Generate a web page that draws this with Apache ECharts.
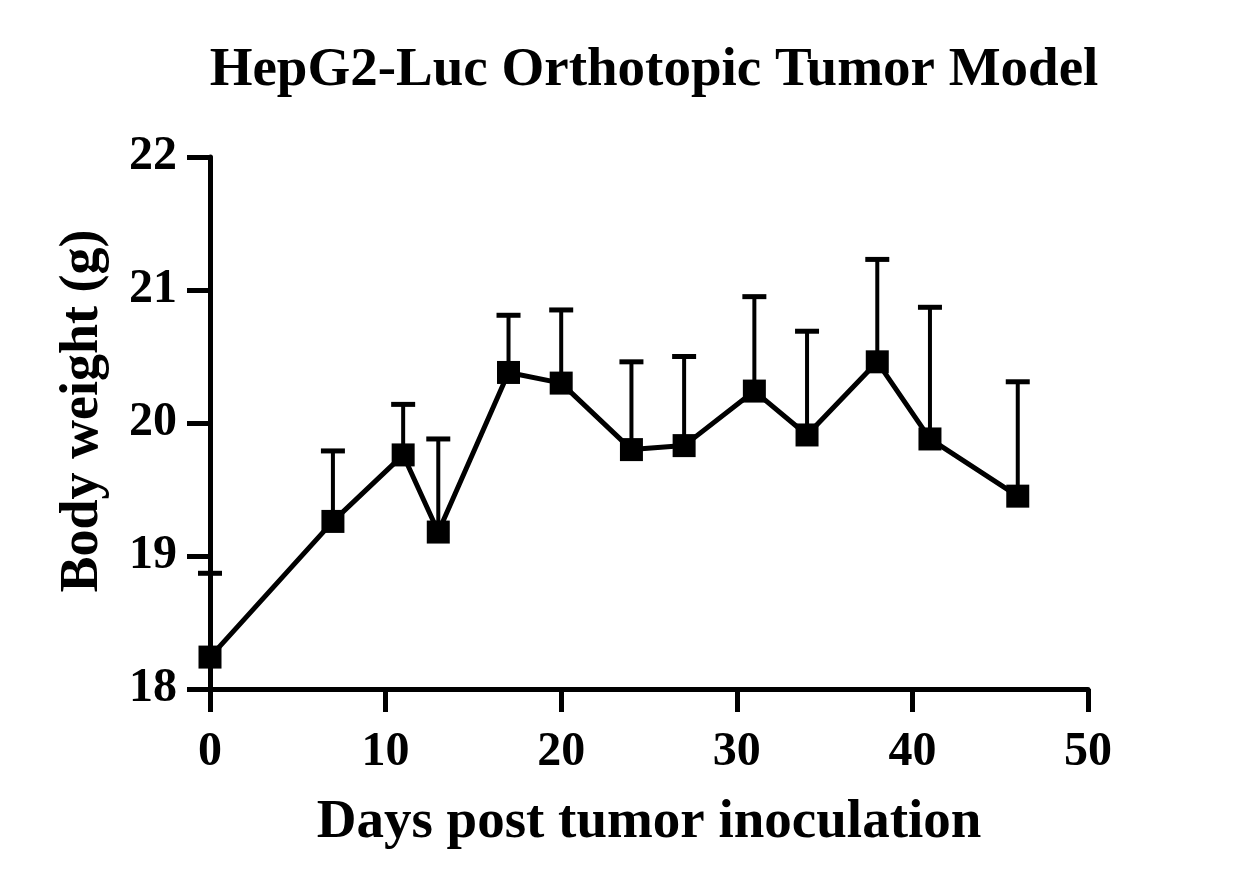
<!DOCTYPE html>
<html lang="en">
<head>
    <meta charset="UTF-8">
    <script src="https://cdn.jsdelivr.net/npm/echarts@6.0.0/dist/echarts.min.js"></script>
    <title>HepG2-Luc Orthotopic Tumor Model</title>
    <style>
        html, body { margin: 0; padding: 0; background: #fff; }
    </style>
</head>
<body>
    <div id="chart" style="width: 1238px;height:885px;"></div>
    <script>
        // days after inoculation, mean body weight and upper error (SD)
        var days = [0, 7, 11, 13, 17, 20, 24, 27, 31, 34, 38, 41, 46];
        var weight = [18.24, 19.26, 19.76, 19.18, 20.38, 20.30, 19.80, 19.83, 20.24, 19.91, 20.46, 19.88, 19.45];
        var errUp = [0.63, 0.53, 0.38, 0.70, 0.43, 0.55, 0.66, 0.67, 0.71, 0.78, 0.77, 0.99, 0.86];

        var FONT = '"Liberation Serif", "Times New Roman", serif';

        var lineData = [];
        var errData = [];
        for (var i = 0; i < days.length; i++) {
            lineData.push([days[i], weight[i]]);
            errData.push([days[i], weight[i], weight[i] + errUp[i]]);
        }

        var chart = echarts.init(document.getElementById('chart'));

        var option = {
            animation: false,
            backgroundColor: '#fff',
            title: {
                text: 'HepG2-Luc Orthotopic Tumor Model',
                left: 649,
                top: 38,
                textAlign: 'center',
                textStyle: {
                    fontFamily: FONT,
                    fontWeight: 'bold',
                    fontSize: 55,
                    color: '#000'
                }
            },
            grid: {
                left: 210,
                right: 150,
                top: 157,
                bottom: 196
            },
            xAxis: {
                type: 'value',
                min: 0,
                max: 50,
                interval: 10,
                name: 'Days post tumor inoculation',
                nameLocation: 'middle',
                nameGap: 106,
                nameTextStyle: {
                    fontFamily: FONT,
                    fontWeight: 'bold',
                    fontSize: 55,
                    color: '#000'
                },
                axisLine: { show: true, onZero: false, lineStyle: { color: '#000', width: 5 } },
                axisTick: { show: true, length: 23, lineStyle: { color: '#000', width: 5 } },
                axisLabel: {
                    margin: 40,
                    fontFamily: FONT,
                    fontWeight: 'bold',
                    fontSize: 48,
                    color: '#000'
                },
                splitLine: { show: false }
            },
            yAxis: {
                type: 'value',
                min: 18,
                max: 22,
                interval: 1,
                name: 'Body weight (g)',
                nameLocation: 'middle',
                nameGap: 100,
                nameTextStyle: {
                    fontFamily: FONT,
                    fontWeight: 'bold',
                    fontSize: 54,
                    color: '#000',
                    padding: [0, 0, 0, 24]
                },
                axisLine: { show: true, onZero: false, lineStyle: { color: '#000', width: 5 } },
                axisTick: { show: true, length: 23, lineStyle: { color: '#000', width: 5 } },
                axisLabel: {
                    margin: 33,
                    fontFamily: FONT,
                    fontWeight: 'bold',
                    fontSize: 48,
                    color: '#000'
                },
                splitLine: { show: false }
            },
            series: [
                {
                    name: 'error',
                    type: 'custom',
                    z: 1,
                    data: errData,
                    renderItem: function (params, api) {
                        var x = api.value(0);
                        var low = api.coord([x, api.value(1)]);
                        var high = api.coord([x, api.value(2)]);
                        var half = 12;
                        return {
                            type: 'group',
                            children: [
                                { type: 'line', shape: { x1: low[0], y1: low[1], x2: high[0], y2: high[1] },
                                  style: { stroke: '#000', lineWidth: 4 } },
                                { type: 'line', shape: { x1: high[0] - half, y1: high[1], x2: high[0] + half, y2: high[1] },
                                  style: { stroke: '#000', lineWidth: 5 } }
                            ]
                        };
                    }
                },
                {
                    name: 'weight',
                    type: 'line',
                    z: 3,
                    data: lineData,
                    symbol: 'rect',
                    symbolSize: 23,
                    itemStyle: { color: '#000' },
                    lineStyle: { color: '#000', width: 5 }
                }
            ]
        };

        chart.setOption(option);
    </script>
</body>
</html>
